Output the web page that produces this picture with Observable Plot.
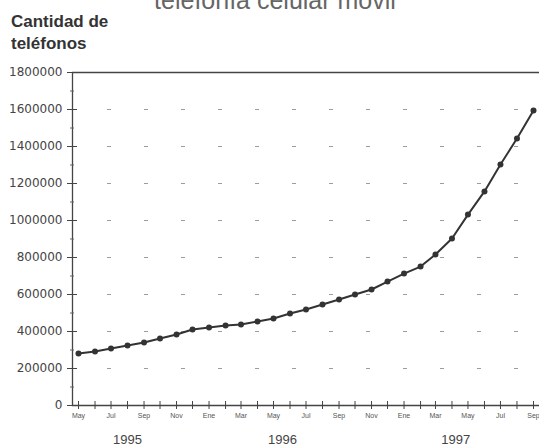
<!DOCTYPE html>
<html>
<head>
<meta charset="utf-8">
<script src="https://cdn.jsdelivr.net/npm/d3@7"></script>
<script src="https://cdn.jsdelivr.net/npm/@observablehq/plot@0.6"></script>
<style>
  html, body { margin: 0; padding: 0; background: white; }
  #wrap { position: relative; width: 539px; height: 448px; overflow: hidden; background: white; }
  #title { position: absolute; left: 0; width: 550px; top: -12px; text-align: center;
           font: 25px/25px "Liberation Sans", Arial, sans-serif; color: #666; white-space: nowrap; }
  #ylab { position: absolute; left: 11px; top: 11px; font: bold 17px/22px "Liberation Sans", Arial, sans-serif; color: #333; }
  #chart { position: absolute; left: 0; top: 60px; }
</style>
</head>
<body>
<div id="wrap">
  <div id="title">telefonía celular móvil</div>
  <div id="ylab">Cantidad de<br>teléfonos</div>
  <div id="chart"></div>
</div>
<script>
const meses = [
  "1995-05","1995-06","1995-07","1995-08","1995-09","1995-10","1995-11","1995-12",
  "1996-01","1996-02","1996-03","1996-04","1996-05","1996-06","1996-07","1996-08","1996-09","1996-10","1996-11","1996-12",
  "1997-01","1997-02","1997-03","1997-04","1997-05","1997-06","1997-07","1997-08","1997-09"
];
const telefonos = [
  281000, 292000, 308000, 324000, 341000, 362000, 384000, 411000,
  422000, 432000, 438000, 454000, 470000, 497000, 519000, 546000, 573000, 600000, 627000, 670000,
  713000, 751000, 816000, 903000, 1032000, 1157000, 1303000, 1443000, 1595000
];
const etiquetasMes = ["Ene","Feb","Mar","Abr","May","Jun","Jul","Ago","Sep","Oct","Nov","Dic"];
const ticksY = [0, 200000, 400000, 600000, 800000, 1000000, 1200000, 1400000, 1600000, 1800000];
const ticksYMenores = [100000, 300000, 500000, 700000, 900000, 1100000, 1300000, 1500000, 1700000];
const anios = ["1995", "1996", "1997"];
const aniosPos = ["1995-08-01", "1996-05-18", "1997-04-08"];

const parse = d3.utcParse("%Y-%m");
const parseDia = d3.utcParse("%Y-%m-%d");
const fechas = meses.map(parse);
const datos = fechas.map((f, i) => ({fecha: f, valor: telefonos[i]}));
const gridY = ticksY.filter(v => v > 0 && v < 1800000);
const W = 539, ML = 72;

const chart = Plot.plot({
  width: W, height: 388,
  marginTop: 12, marginBottom: 43, marginLeft: ML, marginRight: 0,
  x: {type: "utc", domain: [fechas[0], fechas[fechas.length - 1]], insetLeft: 6, insetRight: 6},
  y: {domain: [0, 1800000]},
  style: {fontFamily: "'Liberation Sans', Arial, sans-serif", background: "white", color: "#444", overflow: "visible"},
  marks: [
    Plot.ruleY(gridY, {y: d => d, stroke: "#9c9c9c", strokeWidth: 1, strokeDasharray: "4 33", strokeDashoffset: 2}),
    Plot.ruleY([1800000], {y: d => d, stroke: "#444", strokeWidth: 1.3}),
    Plot.ruleY([0], {y: d => d, stroke: "#444", strokeWidth: 1.3}),
    Plot.ruleX([fechas[0]], {x: d => d, dx: -6, stroke: "#444", strokeWidth: 1.3}),
    Plot.ruleY(ticksY, {y: d => d, insetLeft: -5, insetRight: W - ML - 5, stroke: "#444"}),
    Plot.ruleY(ticksYMenores, {y: d => d, insetLeft: -2, insetRight: W - ML - 2, stroke: "#666"}),
    Plot.ruleX(fechas, {x: d => d, y1: () => 0, y2: () => 0, insetTop: -4, insetBottom: -4, stroke: "#444"}),
    Plot.axisY({ticks: ticksY, tickSize: 0, tickPadding: 10, tickFormat: d => String(d),
                fontSize: 12, fontFamily: "'DejaVu Sans', sans-serif", fill: "#444", label: null}),
    Plot.axisX({ticks: fechas.filter((d, i) => i % 2 === 0), tickSize: 0, tickPadding: 8,
                tickFormat: d => etiquetasMes[d.getUTCMonth()], fontSize: 7, fill: "#555", label: null}),
    Plot.text(anios, {x: (d, i) => parseDia(aniosPos[i]), y: () => 0, dy: 34, text: d => d, fontSize: 13, fill: "#444"}),
    Plot.line(datos, {x: "fecha", y: "valor", stroke: "#333", strokeWidth: 2}),
    Plot.dot(datos, {x: "fecha", y: "valor", r: 3, fill: "#333"})
  ]
});
document.getElementById("chart").appendChild(chart);
</script>
</body>
</html>
